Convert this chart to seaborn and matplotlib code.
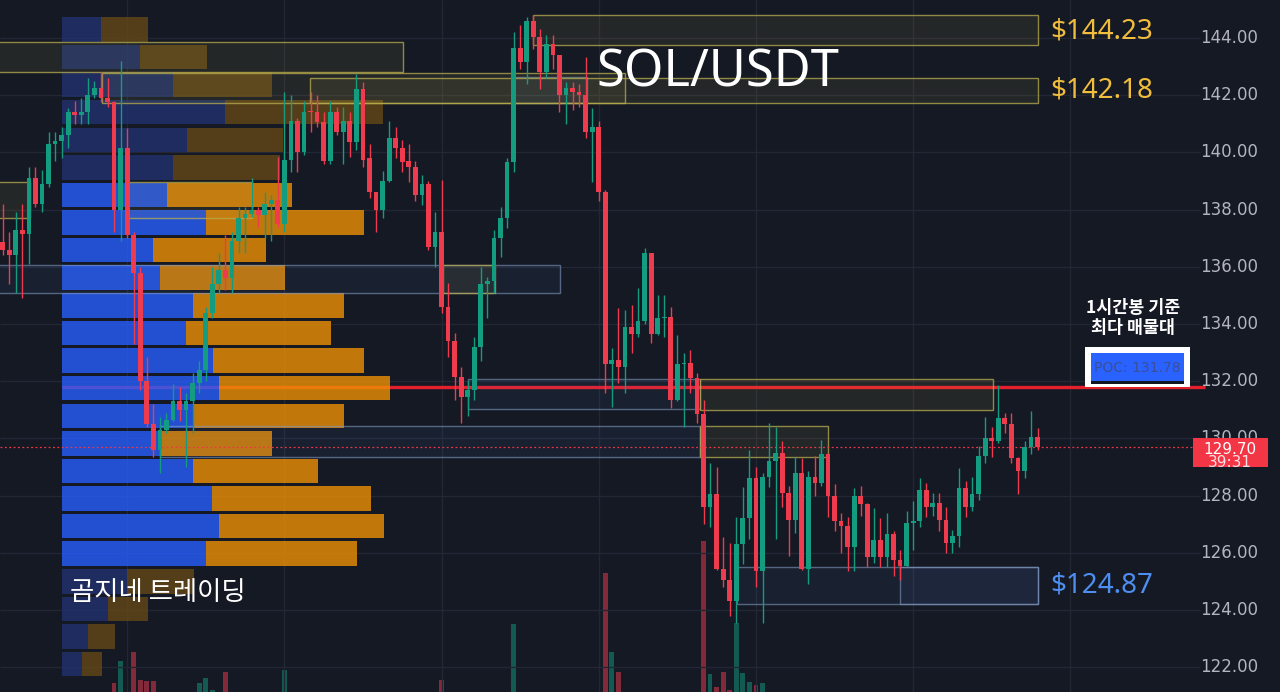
import matplotlib
matplotlib.use('Agg')
import numpy as np
import pandas as pd
import matplotlib.pyplot as plt
from matplotlib.patches import Rectangle
import seaborn as sns

BG = '#151924'
UP = '#139c80'
DN = '#ef3b4e'
GRID = '#232734'

sns.set_style('dark', {'axes.facecolor': BG, 'figure.facecolor': BG})
plt.rcParams['font.family'] = ['Noto Sans', 'Noto Sans CJK KR', 'DejaVu Sans']
plt.rcParams['patch.edgecolor'] = 'none'
plt.rcParams['patch.linewidth'] = 0

# ---- 1h candles, SOL/USDT ----
opens = [136.85, 136.6, 136.4, 137.3, 137.15, 139.1, 138.2, 138.9, 140.3, 140.4,
         140.6, 141.4, 141.3, 141.4, 142.0, 142.25, 141.9, 141.75, 138.0, 140.15,
         137.1, 135.8, 132.0, 130.5, 129.6, 130.3, 130.65, 131.3, 131.0, 131.3,
         131.95, 132.4, 134.4, 135.4, 135.9, 135.6, 136.9, 137.7, 137.85, 138.0,
         137.8, 138.2, 138.35, 137.5, 139.75, 141.1, 140.0, 141.45, 141.4, 141.05,
         139.7, 141.4, 140.7, 141.1, 140.35, 142.2, 139.8, 138.6, 138.0, 139.0,
         140.5, 140.15, 139.7, 139.5, 138.5, 138.9, 136.7, 137.2, 134.6, 133.4,
         132.15, 131.45, 131.7, 133.2, 135.4, 135.5, 137.0, 137.7, 139.65, 143.65,
         143.15, 144.6, 144.05, 142.8, 143.8, 143.4, 142.0, 142.25, 142.1, 142.0,
         140.7, 140.9, 138.6, 132.6, 132.75, 132.5, 133.9, 133.65, 134.1, 136.5,
         133.65, 134.2, 134.25, 131.35, 132.6, 132.65, 132.1, 130.85, 127.6, 128.05,
         125.45, 125.05, 124.3, 126.3, 127.2, 128.6, 125.35, 128.65, 129.2, 129.5,
         128.1, 127.15, 128.8, 125.45, 128.65, 128.45, 129.45, 128.0, 127.1, 126.95,
         126.2, 128.0, 127.7, 125.85, 126.45, 125.85, 126.65, 125.75, 125.55, 127.05,
         127.1, 128.2, 127.6, 127.75, 127.15, 126.35, 126.6, 128.25, 127.6, 128.05,
         129.4, 130.0, 129.9, 130.7, 130.5, 129.3, 128.85, 129.7, 130.05]
highs = [138.2, 137.2, 137.9, 138.2, 139.5, 139.5, 139.4, 140.7, 140.7, 140.9,
         141.55, 141.8, 141.9, 142.6, 142.5, 142.8, 142.6, 141.8, 143.2, 140.85,
         137.2, 136.0, 132.85, 131.2, 130.75, 130.9, 131.9, 131.8, 131.6, 132.3,
         132.7, 134.6, 136.0, 136.5, 137.1, 137.2, 138.1, 138.1, 139.1, 138.1,
         138.6, 138.5, 139.85, 142.1, 142.0, 141.2, 141.8, 142.1, 142.0, 141.4,
         141.8, 141.6, 141.6, 141.4, 142.75, 142.45, 140.3, 138.6, 139.35, 141.1,
         140.9, 140.45, 140.3, 139.7, 139.2, 139.0, 137.9, 139.05, 135.45, 133.7,
         132.5, 132.0, 133.55, 136.0, 135.65, 137.3, 138.1, 139.8, 144.2, 144.45,
         144.75, 144.8, 144.3, 144.1, 144.1, 143.4, 142.45, 142.45, 142.4, 143.35,
         141.55, 141.1, 138.7, 133.15, 134.55, 134.5, 134.65, 135.25, 136.65, 136.5,
         135.0, 135.0, 134.6, 133.6, 133.0, 133.1, 132.3, 131.35, 129.15, 129.0,
         126.55, 126.35, 127.25, 128.3, 129.6, 129.0, 128.8, 130.55, 130.4, 129.9,
         128.35, 129.35, 129.3, 128.85, 129.4, 129.95, 129.5, 128.4, 127.4, 127.25,
         128.25, 128.35, 127.75, 127.55, 127.2, 127.4, 126.75, 126.1, 127.45, 127.8,
         128.6, 128.45, 128.1, 128.1, 127.6, 126.8, 128.95, 128.5, 128.65, 129.75,
         130.75, 130.4, 131.85, 130.9, 130.9, 129.35, 129.9, 130.95, 130.35]
lows = [136.4, 135.4, 135.1, 134.9, 136.1, 138.1, 137.9, 138.8, 139.7, 139.8,
        140.15, 141.0, 141.0, 141.0, 141.9, 141.75, 141.6, 137.2, 136.9, 137.0,
        133.3, 131.7, 130.4, 129.35, 128.8, 130.2, 130.6, 130.6, 129.0, 130.2,
        131.6, 132.0, 134.2, 135.1, 135.2, 135.1, 136.5, 136.5, 137.75, 137.4,
        137.0, 136.9, 137.4, 137.2, 139.3, 139.3, 139.9, 140.7, 140.9, 139.6,
        139.6, 140.6, 139.6, 139.85, 140.1, 139.5, 138.4, 137.2, 137.7, 138.95,
        139.8, 139.3, 138.95, 138.3, 138.15, 136.6, 136.0, 134.4, 132.85, 131.35,
        130.55, 130.8, 131.35, 132.7, 134.2, 135.1, 136.35, 137.35, 139.3, 142.9,
        142.4, 143.6, 142.2, 142.6, 142.9, 141.4, 141.0, 141.5, 141.6, 140.5,
        138.95, 138.3, 131.6, 131.1, 131.95, 131.6, 133.0, 133.55, 134.0, 133.35,
        133.6, 133.55, 131.05, 131.3, 130.4, 131.6, 130.55, 127.0, 126.9, 125.4,
        124.8, 123.8, 123.55, 125.6, 126.5, 124.8, 123.55, 128.3, 126.5, 127.6,
        125.9, 126.7, 125.4, 124.9, 128.0, 128.35, 127.25, 126.75, 126.0, 125.35,
        125.35, 127.3, 125.5, 125.65, 125.5, 125.5, 125.2, 125.05, 125.5, 126.1,
        126.9, 127.25, 127.3, 126.75, 126.0, 126.0, 126.2, 127.25, 127.45, 127.85,
        129.15, 129.35, 129.85, 130.2, 129.15, 128.05, 128.6, 129.45, 129.6]
closes = [136.6, 136.4, 137.3, 137.15, 139.1, 138.2, 138.9, 140.3, 140.4, 140.6,
          141.4, 141.3, 141.4, 142.0, 142.25, 141.9, 141.75, 138.0, 140.15, 137.1,
          135.8, 132.0, 130.5, 129.6, 130.3, 130.65, 131.3, 131.0, 131.3, 131.95,
          132.4, 134.4, 135.4, 135.9, 135.6, 136.9, 137.7, 137.85, 138.0, 137.8,
          138.2, 138.35, 137.5, 139.75, 141.1, 140.0, 141.4, 141.4, 141.05, 139.7,
          141.4, 140.7, 141.1, 140.35, 142.2, 139.75, 138.6, 138.0, 139.0, 140.5,
          140.15, 139.65, 139.5, 138.5, 138.9, 136.7, 137.2, 134.6, 133.4, 132.15,
          131.45, 131.7, 133.2, 135.4, 135.5, 137.0, 137.7, 139.65, 143.65, 143.15,
          144.6, 144.05, 142.8, 143.8, 143.4, 142.0, 142.25, 142.1, 142.0, 140.7,
          140.9, 138.6, 132.6, 132.75, 132.5, 133.9, 133.65, 134.1, 136.5, 133.65,
          134.2, 134.25, 131.35, 132.6, 132.65, 132.1, 130.85, 127.6, 128.05, 125.45,
          125.05, 124.3, 126.3, 127.2, 128.6, 125.35, 128.65, 129.2, 129.5, 128.1,
          127.15, 128.8, 125.45, 128.65, 128.45, 129.45, 128.0, 127.1, 126.95, 126.2,
          128.0, 127.7, 125.85, 126.45, 125.85, 126.65, 125.75, 125.55, 127.05, 127.1,
          128.2, 127.6, 127.75, 127.15, 126.35, 126.6, 128.25, 127.6, 128.05, 129.4,
          130.0, 129.9, 130.7, 130.5, 129.3, 128.85, 129.7, 130.05, 129.7]
volumes = [12, 12, 12, 12, 12, 12, 12, 12, 12, 12,
           12, 12, 12, 12, 12, 12, 12, 25, 36.5, 14,
           41.3, 26.4, 25.9, 25.9, 14, 12, 12, 12, 14, 15,
           25, 27.5, 21, 14, 30.7, 12, 12, 12, 12, 12,
           12, 12, 14, 31.7, 15, 12, 12, 12, 12, 12,
           12, 12, 12, 12, 14, 14, 12, 12, 12, 12,
           12, 12, 12, 12, 12, 14, 12, 26.4, 15, 14,
           14, 12, 12, 14, 12, 12, 12, 15, 56.2, 18,
           16, 14, 15, 12, 12, 14, 12, 12, 12, 15,
           14, 16, 83.3, 41.5, 30.5, 16, 12, 12, 15, 15,
           12, 12, 16, 14, 12, 12, 14, 100.5, 29.6, 22.8,
           30.5, 21, 57, 30, 25.5, 23.7, 24.6, 18, 16, 14,
           14, 14, 16, 16, 12, 12, 12, 12, 12, 12,
           14, 12, 12, 12, 12, 12, 12, 12, 12, 12,
           12, 12, 12, 12, 12, 12, 12, 12, 12, 12,
           12, 12, 14, 12, 12, 12, 12, 12, 12]

# ---- volume profile (rows of 0.965, buy / sell) ----
vp_price = [144.30, 143.34, 142.37, 141.41, 140.44, 139.48, 138.51, 137.55,
            136.58, 135.62, 134.65, 133.69, 132.72, 131.76, 130.79, 129.83,
            128.86, 127.90, 126.93, 125.97, 125.00, 124.04, 123.07, 122.11]
vp_buy = [39, 78, 111, 163, 125, 111, 105, 144, 91, 98, 131, 124,
          151, 157, 131, 98, 131, 150, 157, 144, 65, 46, 26, 20]
vp_sell = [47, 67, 99, 158, 96, 107, 125, 158, 113, 125, 151, 145,
           151, 171, 151, 112, 125, 159, 165, 151, 67, 40, 27, 20]
va_low, va_high = 125.5, 139.0
poc = 131.78
last_price = 129.70

# zones: (first candle, last candle, low, high)
yellow_zones = [(81.0, 158.1, 143.76, 144.80), (46.9, 158.1, 141.73, 142.60),
                (15.2, 95.0, 141.73, 142.78), (-1.0, 61.1, 142.81, 143.86),
                (-1.0, 4.2, 137.71, 138.97), (19.1, 38.1, 137.71, 138.97),
                (67.2, 75.2, 135.08, 136.06), (106.5, 151.2, 130.99, 132.08),
                (106.5, 126.0, 129.35, 130.43)]
blue_zones = [(-1.0, 85.1, 135.08, 136.06), (71.0, 106.5, 131.03, 132.08),
              (24.0, 106.5, 129.35, 130.43), (112.1, 158.1, 124.21, 125.50),
              (137.0, 158.1, 124.21, 125.50), (77.9, 89.2, 141.73, 142.64)]
levels = [('$144.23', 144.23, '#f0bd3c'), ('$142.18', 142.18, '#f0bd3c'),
          ('$124.87', 124.87, '#4d8ef0')]
price_ticks = list(range(122, 146, 2))
day_lines = [19, 43, 67, 91, 115, 139, 163]

df = pd.DataFrame({'open': opens, 'high': highs, 'low': lows,
                   'close': closes, 'volume': volumes})
df['idx'] = np.arange(len(df))
df['side'] = np.where(df['close'] >= df['open'], 'up', 'down')

# pixel layout of the screenshot
W, H = 1280, 692
X0, DX = 2.7, 6.55          # first candle px, px per candle
Y0, DY = 38.0, 28.6         # px of 144.00, px per 1.00


def cx(px):
    return (px - X0) / DX


def cp(py):
    return 144 - (py - Y0) / DY


fig = plt.figure(figsize=(W / 100, H / 100), dpi=100)
ax_vol = fig.add_axes([0, 0, 1, 1])
ax = fig.add_axes([0, 0, 1, 1])
ax.patch.set_visible(False)

# volume bars (baseline sits below the visible area)
sns.barplot(data=df, x='idx', y='volume', hue='side', palette={'up': UP, 'down': DN},
            native_scale=True, dodge=False, width=0.72, alpha=0.5, saturation=1,
            errorbar=None, legend=False, linewidth=0, edgecolor='none', ax=ax_vol)
ax_vol.set_xlim(cx(0), cx(W))
ax_vol.set_ylim(20, 20 + H * 0.533)
ax_vol.axis('off')

ax.set_xlim(cx(0), cx(W))
ax.set_ylim(cp(H), cp(0))
ax.axis('off')

# grid
for p in price_ticks:
    ax.hlines(p, cx(0), cx(1200), color=GRID, lw=1, zorder=0)
for d in day_lines:
    if cx(0) < d < cx(1190):
        ax.vlines(d, cp(H), cp(0), color=GRID, lw=1, zorder=0)

# POC line (under the profile)
ax.hlines(poc, cx(62), cx(1205), color='#e3202c', lw=2.4, zorder=1)

# volume profile
vp_left = cx(62)
row_h = 0.857
for p, b, s in zip(vp_price, vp_buy, vp_sell):
    inside = va_low <= p <= va_high
    cb = '#275efe' if inside else '#21326e'
    co = '#ef9004' if inside else '#654817'
    ax.barh(p, b / DX, left=vp_left, height=row_h, color=cb, alpha=0.8,
            linewidth=0, zorder=2)
    ax.barh(p, s / DX, left=vp_left + b / DX, height=row_h, color=co, alpha=0.8,
            linewidth=0, zorder=2)

# zones
for x0, x1, lo, hi in blue_zones:
    ax.add_patch(Rectangle((x0, lo), x1 - x0, hi - lo, facecolor=(0.35, 0.5, 0.85, 0.07),
                           edgecolor=(0.5, 0.6, 0.75, 0.6), lw=1, zorder=3))
for x0, x1, lo, hi in yellow_zones:
    ax.add_patch(Rectangle((x0, lo), x1 - x0, hi - lo, facecolor=(0.85, 0.8, 0.35, 0.08),
                           edgecolor=(0.72, 0.68, 0.3, 0.75), lw=1, zorder=3))

# current price line
ax.hlines(last_price, cx(0), cx(1193), color='#f23645', lw=0.9, ls=(0, (1.5, 2)), zorder=4)

# candles
col = np.where(df['side'] == 'up', UP, DN)
ax.vlines(df['idx'], df['low'], df['high'], color=col, lw=1, zorder=5)
body_lo = np.minimum(df['open'], df['close'])
body_h = np.maximum((df['close'] - df['open']).abs(), 0.05)
ax.bar(df['idx'], body_h, bottom=body_lo, width=0.72, color=col, linewidth=0, zorder=6)

# price scale
for p in price_ticks:
    ax.text(cx(1229), p, f'{p:.2f}', ha='center', va='center', color='#b2b5be',
            fontsize=12, family='DejaVu Sans', zorder=8)
ax.add_patch(Rectangle((cx(1193), cp(467)), cx(1268) - cx(1193), cp(438) - cp(467),
                       facecolor='#f23645', edgecolor='none', zorder=9))
ax.text(cx(1230), cp(449), f'{last_price:.2f}', ha='center', va='center', color='white',
        fontsize=11, family='DejaVu Sans', zorder=10)
ax.text(cx(1230), cp(462), '39:31', ha='center', va='center', color='#ffe0e3',
        fontsize=11, family='DejaVu Sans', zorder=10)

# level labels
for txt, p, c in levels:
    ax.text(cx(1050), p, txt, ha='left', va='center', color=c, fontsize=20, zorder=10)

# POC badge
ax.add_patch(Rectangle((cx(1085), cp(387)), cx(1190) - cx(1085), cp(347) - cp(387),
                       facecolor='white', edgecolor='none', zorder=9))
ax.add_patch(Rectangle((cx(1091), cp(381)), cx(1184) - cx(1091), cp(353) - cp(381),
                       facecolor='#2962ff', edgecolor='none', zorder=10))
ax.add_patch(Rectangle((cx(1091), cp(384)), cx(1184) - cx(1091), cp(381) - cp(384),
                       facecolor='#111522', edgecolor='none', zorder=10))
ax.text(cx(1137), cp(368), f'POC: {poc:.2f}', ha='center', va='center', color='#3a4f9a',
        fontsize=10, family='DejaVu Sans', zorder=11)
ax.text(cx(1133), cp(318), '1시간봉 기준\n최다 매물대', ha='center', va='center',
        color='white', fontsize=12.5, linespacing=1.1, fontweight='bold',
        family=['Noto Sans CJK KR', 'DejaVu Sans'], zorder=11)

# titles
ax.text(cx(718), cp(73), 'SOL/USDT', ha='center', va='center', color='white',
        fontsize=36.5, zorder=12)
ax.text(cx(70), cp(592), '곰지네 트레이딩', ha='left', va='center', color='white',
        fontsize=19, family=['Noto Sans CJK KR', 'DejaVu Sans'], zorder=12)

fig.savefig('out.png', dpi=100, facecolor=BG)
